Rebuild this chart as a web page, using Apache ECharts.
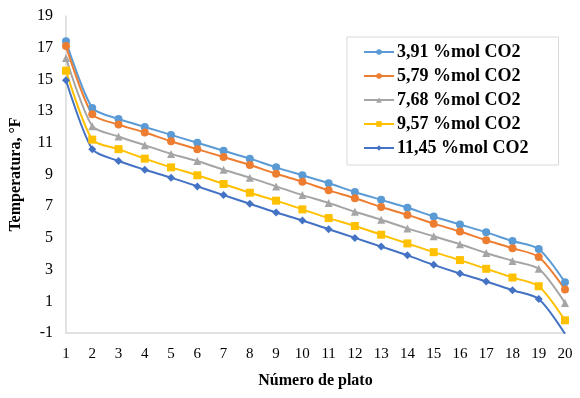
<!DOCTYPE html>
<html>
<head>
<meta charset="utf-8">
<script src="https://cdn.jsdelivr.net/npm/echarts@6/dist/echarts.min.js"></script>
<style>
  html, body { margin: 0; padding: 0; background: #fff; }
  #chart { width: 580px; height: 398px; }
</style>
</head>
<body>
<div id="chart"></div>
<script>
const platos = ['1', '2', '3', '4', '5', '6', '7', '8', '9', '10', '11', '12', '13', '14', '15', '16', '17', '18', '19', '20']
const yTicks = [-1, 1, 3, 5, 7, 9, 11, 13, 15, 17, 19]

const co2_391 = [17.4, 13.2, 12.5, 12.0, 11.5, 11.0, 10.5, 10.0, 9.45, 8.95, 8.45, 7.9, 7.4, 6.9, 6.35, 5.85, 5.35, 4.8, 4.3, 2.2]
const co2_579 = [17.1, 12.8, 12.15, 11.65, 11.1, 10.6, 10.1, 9.6, 9.05, 8.55, 8.0, 7.5, 6.95, 6.45, 5.9, 5.4, 4.85, 4.35, 3.8, 1.75]
const co2_768 = [16.35, 12.05, 11.4, 10.85, 10.3, 9.85, 9.3, 8.8, 8.25, 7.7, 7.2, 6.65, 6.15, 5.6, 5.1, 4.6, 4.05, 3.55, 3.05, 0.9]
const co2_957 = [15.55, 11.2, 10.6, 10.0, 9.45, 8.95, 8.4, 7.85, 7.35, 6.8, 6.25, 5.75, 5.2, 4.65, 4.1, 3.6, 3.05, 2.5, 1.95, -0.2]
const co2_1145 = [14.95, 10.6, 9.85, 9.3, 8.8, 8.25, 7.7, 7.15, 6.6, 6.1, 5.55, 5.0, 4.45, 3.9, 3.3, 2.75, 2.25, 1.7, 1.15, -1.05]

const font = 'Liberation Serif'

function serie(name, data, color, symbol, size) {
  return {
    name: name,
    type: 'line',
    data: data,
    smooth: 0.25,
    symbol: symbol,
    symbolSize: size,
    lineStyle: { color: color, width: 2 },
    itemStyle: { color: color },
    emphasis: { disabled: true }
  }
}

const chart = echarts.init(document.getElementById('chart'))
chart.setOption({
  animation: false,
  textStyle: { fontFamily: font },
  grid: { left: 65, right: 15, top: 16, bottom: 65 },
  legend: {
    orient: 'vertical',
    left: 347,
    top: 37,
    padding: [6, 30, 8, 16],
    itemGap: 6,
    itemWidth: 30,
    itemHeight: 7,
    backgroundColor: '#fff',
    borderColor: '#d9d9d9',
    borderWidth: 1,
    textStyle: { fontFamily: font, fontSize: 18, fontWeight: 'bold', color: '#000', padding: [0, 0, 0, -2] }
  },
  xAxis: {
    type: 'category',
    data: platos,
    boundaryGap: false,
    name: 'Número de plato',
    nameLocation: 'middle',
    nameGap: 40,
    nameTextStyle: { fontFamily: font, fontSize: 16, fontWeight: 'bold', color: '#000' },
    axisLine: { onZero: false, lineStyle: { color: '#d9d9d9', width: 1.5 } },
    axisTick: { show: false },
    axisLabel: { color: '#000', fontSize: 15, margin: 14 }
  },
  yAxis: {
    type: 'value',
    min: yTicks[0],
    max: yTicks[yTicks.length - 1],
    interval: 2,
    name: 'Temperatura, °F',
    nameLocation: 'middle',
    nameGap: 42,
    nameTextStyle: { fontFamily: font, fontSize: 16, fontWeight: 'bold', color: '#000' },
    axisLine: { show: true, lineStyle: { color: '#d9d9d9', width: 1.5 } },
    axisTick: { show: false },
    splitLine: { show: false },
    axisLabel: { color: '#000', fontSize: 16, margin: 13 }
  },
  series: [
    serie('3,91 %mol CO2', co2_391, '#5B9BD5', 'circle', 8),
    serie('5,79 %mol CO2', co2_579, '#ED7D31', 'circle', 8),
    serie('7,68 %mol CO2', co2_768, '#A5A5A5', 'triangle', 8),
    serie('9,57 %mol CO2', co2_957, '#FFC000', 'rect', 8),
    serie('11,45 %mol CO2', co2_1145, '#4472C4', 'diamond', 8)
  ]
})
</script>
</body>
</html>
